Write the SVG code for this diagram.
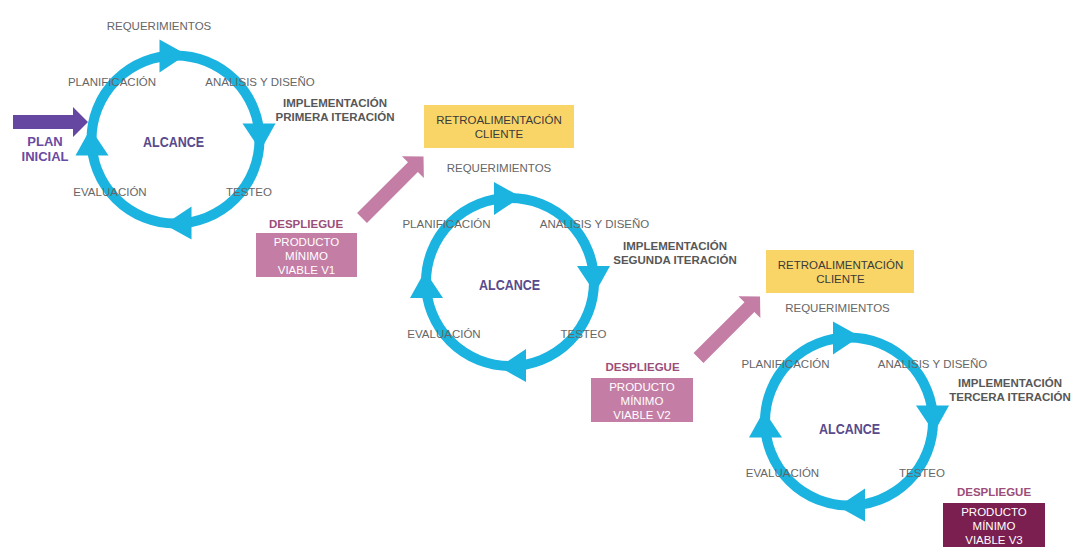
<svg xmlns="http://www.w3.org/2000/svg" xmlns:xlink="http://www.w3.org/1999/xlink" width="1085" height="558" viewBox="0 0 1085 558">
<style>
text{font-family:"Liberation Sans",Arial,sans-serif;text-anchor:middle}
.lbl{font-size:11.5px;fill:#666}
.impl{font-size:11.5px;font-weight:bold;fill:#575757}
.alc{font-size:15px;font-weight:bold;fill:#584a8c}
.plan{font-size:13px;font-weight:bold;fill:#6a4aa2}
.dep{font-size:11.5px;font-weight:bold;fill:#9c4d78}
.prod{font-size:11.5px;fill:#ffffff}
.retro{font-size:11.5px;fill:#3a3a3a}
.ring{fill:none;stroke:#1bb3e0;stroke-width:10}
.head{fill:#1bb3e0}
.pink{fill:#c47ea5}
</style>
<defs>
<g id="cycle">
<circle class="ring" cx="0" cy="0" r="84"/>
<polygon id="ah" class="head" points="67,-16 100,-16 85,11"/>
<use xlink:href="#ah" transform="rotate(90)"/>
<use xlink:href="#ah" transform="rotate(180)"/>
<use xlink:href="#ah" transform="rotate(270)"/>
</g>
<polygon id="parrow" class="pink" points="0,-7 72,-7 72,-15.5 87,0 72,15.5 72,7 0,7"/>
</defs>
<rect width="1085" height="558" fill="#ffffff"/>

<g id="connectors">
<polygon id="plan-arrow" fill="#6546a0" points="13,115 73,115 73,107 88,122 73,137 73,129 13,129"/>
<use id="deploy-arrow-1" xlink:href="#parrow" transform="translate(362,218) rotate(-45)"/>
<use id="deploy-arrow-2" xlink:href="#parrow" transform="translate(698.5,358) rotate(-45)"/>
</g>

<g id="plan-inicial">
<text class="plan" x="45" y="146">PLAN</text>
<text class="plan" x="45" y="161">INICIAL</text>
</g>

<g id="cycle-1">
<use xlink:href="#cycle" transform="translate(175.5,139.5)"/>
<text class="lbl" x="159" y="30">REQUERIMIENTOS</text>
<text class="lbl" x="112" y="86">PLANIFICACIÓN</text>
<text class="lbl" x="260" y="86">ANALISIS Y DISEÑO</text>
<text class="lbl" x="110" y="196">EVALUACIÓN</text>
<text class="lbl" x="249" y="196">TESTEO</text>
<text class="alc" x="173.5" y="146.5" textLength="61" lengthAdjust="spacingAndGlyphs">ALCANCE</text>
<text class="impl" x="335" y="107">IMPLEMENTACIÓN</text>
<text class="impl" x="335" y="121">PRIMERA ITERACIÓN</text>
</g>

<g id="producto-v1">
<text class="dep" x="306" y="228">DESPLIEGUE</text>
<rect x="256" y="233" width="101" height="44" fill="#c47ea5"/>
<text class="prod" x="306.5" y="246">PRODUCTO</text>
<text class="prod" x="306.5" y="260">MÍNIMO</text>
<text class="prod" x="306.5" y="274">VIABLE V1</text>
</g>

<g id="retro-1">
<rect x="424" y="105" width="150" height="43" fill="#f9d567"/>
<text class="retro" x="499" y="124">RETROALIMENTACIÓN</text>
<text class="retro" x="499" y="138">CLIENTE</text>
</g>

<g id="cycle-2">
<use xlink:href="#cycle" transform="translate(510,282)"/>
<text class="lbl" x="499" y="172">REQUERIMIENTOS</text>
<text class="lbl" x="446.5" y="228">PLANIFICACIÓN</text>
<text class="lbl" x="594.5" y="228">ANALISIS Y DISEÑO</text>
<text class="lbl" x="444" y="338">EVALUACIÓN</text>
<text class="lbl" x="583.5" y="338">TESTEO</text>
<text class="alc" x="509.5" y="289.5" textLength="61" lengthAdjust="spacingAndGlyphs">ALCANCE</text>
<text class="impl" x="675" y="250">IMPLEMENTACIÓN</text>
<text class="impl" x="675" y="264">SEGUNDA ITERACIÓN</text>
</g>

<g id="producto-v2">
<text class="dep" x="642.5" y="371">DESPLIEGUE</text>
<rect x="591" y="378" width="102" height="44" fill="#c47ea5"/>
<text class="prod" x="642" y="391">PRODUCTO</text>
<text class="prod" x="642" y="405">MÍNIMO</text>
<text class="prod" x="642" y="419">VIABLE V2</text>
</g>

<g id="retro-2">
<rect x="766" y="250" width="148" height="43" fill="#f9d567"/>
<text class="retro" x="840.5" y="269">RETROALIMENTACIÓN</text>
<text class="retro" x="840.5" y="283">CLIENTE</text>
</g>

<g id="cycle-3">
<use xlink:href="#cycle" transform="translate(849,421.5)"/>
<text class="lbl" x="837.5" y="312">REQUERIMIENTOS</text>
<text class="lbl" x="785.5" y="368">PLANIFICACIÓN</text>
<text class="lbl" x="932.5" y="368">ANALISIS Y DISEÑO</text>
<text class="lbl" x="782.5" y="477">EVALUACIÓN</text>
<text class="lbl" x="922" y="477">TESTEO</text>
<text class="alc" x="849.5" y="433.5" textLength="61" lengthAdjust="spacingAndGlyphs">ALCANCE</text>
<text class="impl" x="1010" y="387">IMPLEMENTACIÓN</text>
<text class="impl" x="1010" y="401">TERCERA ITERACIÓN</text>
</g>

<g id="producto-v3">
<text class="dep" x="994" y="496">DESPLIEGUE</text>
<rect x="943" y="503" width="102" height="44" fill="#7a1f4f"/>
<text class="prod" x="994" y="516">PRODUCTO</text>
<text class="prod" x="994" y="530">MÍNIMO</text>
<text class="prod" x="994" y="544">VIABLE V3</text>
</g>
</svg>
